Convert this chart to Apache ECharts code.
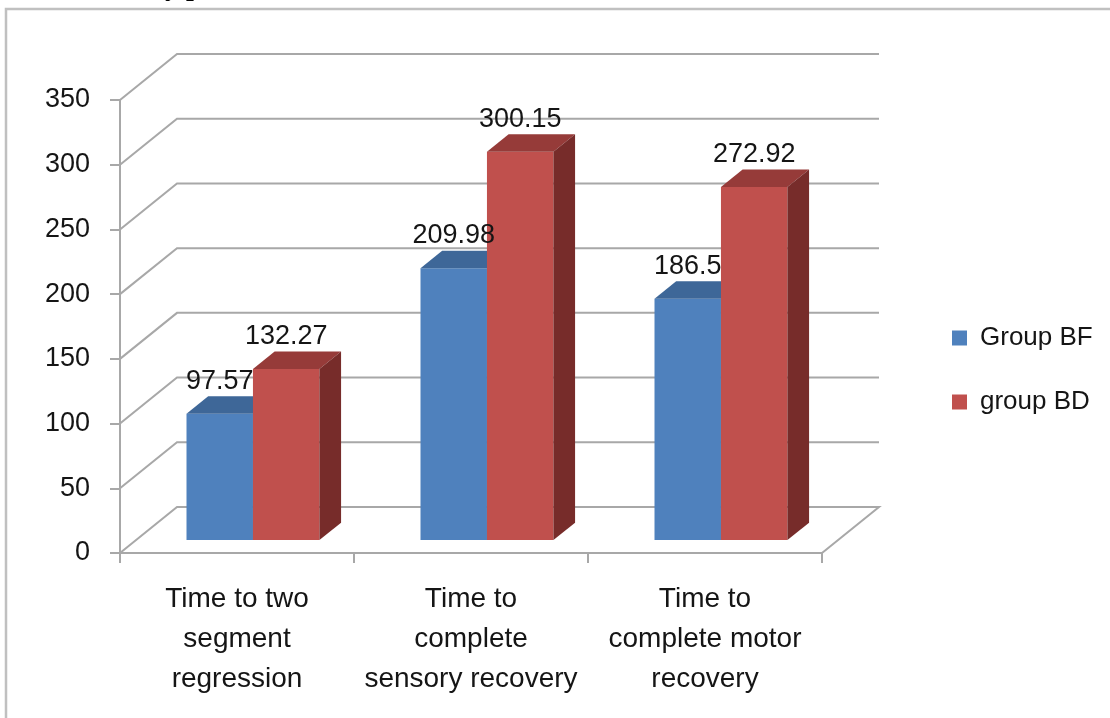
<!DOCTYPE html>
<html>
<head>
<meta charset="utf-8">
<script src="https://cdn.jsdelivr.net/npm/echarts@6/dist/echarts.min.js"></script>
<style>
  html, body { margin: 0; padding: 0; background: #ffffff; }
  #chart { width: 1110px; height: 718px; }
</style>
</head>
<body>
<div id="chart"></div>
<script>
// ---- data ----
const categories = [
  'Time to two\nsegment\nregression',
  'Time to\ncomplete\nsensory recovery',
  'Time to\ncomplete motor\nrecovery'
];
const seriesNames = ['Group BF', 'group BD'];
const groupBF = [97.57, 209.98, 186.5];
const groupBD = [132.27, 300.15, 272.92];
const valueTicks = [0, 50, 100, 150, 200, 250, 300, 350];

// ---- look of the 3D box ----
const DEPTH = [57, -46];      // offset from the front plane to the back wall
const BAR_FRONT = 0.28;       // bars start this far into the depth
const BAR_DEPTH = 0.38;       // thickness of each bar along the depth
const BAR_WIDTH = 0.284;      // bar width as a share of one category
const FONT = '"Liberation Sans", Arial, sans-serif';
const TEXT = '#151515';
const GRID = '#a8a8a8';
const COLORS = [
  { front: '#4f81bd', top: '#3e6798', side: '#365a85' },
  { front: '#c0504d', top: '#963b39', side: '#772c2a' }
];

// back wall gridlines, side wall diagonals and the floor outline
function renderWall(params, api) {
  const v = api.value(1);
  const cs = params.coordSys;
  const y = api.coord([0, v])[1];
  const x0 = cs.x, x1 = cs.x + cs.width;
  const pts = [[x0, y], [x0 + DEPTH[0], y + DEPTH[1]], [x1 + DEPTH[0], y + DEPTH[1]]];
  if (v === 0) pts.push([x1, y]);
  return {
    type: 'polyline',
    shape: { points: pts },
    style: { stroke: GRID, lineWidth: 2, fill: null },
    silent: true
  };
}

// geometry shared by the bars and their labels
function barBox(api, idx, val, group) {
  const base = api.coord([idx, 0]);
  const top = api.coord([idx, val]);
  const bw = api.size([1, 0])[0] * BAR_WIDTH;
  const ox = DEPTH[0] * BAR_FRONT, oy = DEPTH[1] * BAR_FRONT;
  const xl = base[0] + ox + (group === 0 ? -bw : 0);
  return {
    xl: xl, xr: xl + bw,
    yb: base[1] + oy, yt: top[1] + oy,
    dx: DEPTH[0] * BAR_DEPTH, dy: DEPTH[1] * BAR_DEPTH
  };
}

function makeBarRenderer(group) {
  const c = COLORS[group];
  return function (params, api) {
    const b = barBox(api, api.value(0), api.value(1), group);
    return {
      type: 'group',
      children: [
        { type: 'rect', shape: { x: b.xl, y: b.yt, width: b.xr - b.xl, height: b.yb - b.yt },
          style: { fill: c.front } },
        { type: 'polygon',
          shape: { points: [[b.xl, b.yt], [b.xr, b.yt], [b.xr + b.dx, b.yt + b.dy], [b.xl + b.dx, b.yt + b.dy]] },
          style: { fill: c.top } },
        { type: 'polygon',
          shape: { points: [[b.xr, b.yt], [b.xr + b.dx, b.yt + b.dy], [b.xr + b.dx, b.yb + b.dy], [b.xr, b.yb]] },
          style: { fill: c.side } }
      ]
    };
  };
}

function renderLabel(params, api) {
  const idx = api.value(0), val = api.value(1), group = api.value(2);
  const b = barBox(api, idx, val, group);
  const src = group === 0 ? groupBF : groupBD;
  return {
    type: 'text',
    x: (b.xl + b.xr) / 2,
    y: b.yt + b.dy - 15,
    style: {
      text: String(src[idx]),
      fill: TEXT,
      font: '27px ' + FONT,
      align: 'center',
      verticalAlign: 'middle'
    },
    silent: true
  };
}

const labelData = [];
groupBF.forEach((v, i) => labelData.push([i, v, 0]));
groupBD.forEach((v, i) => labelData.push([i, v, 1]));

const chart = echarts.init(document.getElementById('chart'), null, { renderer: 'canvas' });
chart.setOption({
  backgroundColor: '#ffffff',
  animation: false,
  grid: { left: 120, top: 100, width: 702, height: 453 },
  graphic: [
    { type: 'rect', shape: { x: 6, y: 9, width: 1200, height: 800 },
      style: { fill: null, stroke: '#c0c0c0', lineWidth: 2.5 }, silent: true },
    { type: 'text', x: 67, y: -12,
      style: { text: 'Recovery profile', fill: '#000000',
               font: 'bold 28px "Liberation Serif", "Times New Roman", serif',
               align: 'left', verticalAlign: 'middle' }, silent: true }
  ],
  legend: {
    data: seriesNames,
    orient: 'vertical',
    left: 947,
    top: 318,
    icon: 'rect',
    itemWidth: 15,
    itemHeight: 15,
    itemGap: 34,
    selectedMode: false,
    textStyle: { fontFamily: FONT, fontSize: 26, color: TEXT, lineHeight: 30, padding: [0, 0, 0, 8] }
  },
  xAxis: {
    type: 'category',
    data: categories,
    boundaryGap: true,
    axisLine: { show: true, lineStyle: { color: GRID, width: 2 } },
    axisTick: { show: true, length: 10, lineStyle: { color: GRID, width: 2 } },
    axisLabel: { interval: 0, margin: 26, fontFamily: FONT, fontSize: 28, lineHeight: 40, color: TEXT },
    splitLine: { show: false }
  },
  yAxis: {
    type: 'value',
    min: 0,
    max: 350,
    interval: 50,
    axisLine: { show: true, lineStyle: { color: GRID, width: 2 } },
    axisTick: { show: true, length: 10, lineStyle: { color: GRID, width: 2 } },
    axisLabel: { margin: 30, fontFamily: FONT, fontSize: 27, color: TEXT },
    splitLine: { show: false }
  },
  series: [
    {
      type: 'custom', name: 'walls', z: 1, silent: true,
      renderItem: renderWall,
      encode: { x: 0, y: 1 },
      data: valueTicks.map(v => [0, v])
    },
    {
      type: 'custom', name: seriesNames[0], z: 2,
      itemStyle: { color: COLORS[0].front },
      renderItem: makeBarRenderer(0),
      encode: { x: 0, y: 1 },
      data: groupBF.map((v, i) => [i, v])
    },
    {
      type: 'custom', name: seriesNames[1], z: 3,
      itemStyle: { color: COLORS[1].front },
      renderItem: makeBarRenderer(1),
      encode: { x: 0, y: 1 },
      data: groupBD.map((v, i) => [i, v])
    },
    {
      type: 'custom', name: 'labels', z: 5, silent: true,
      renderItem: renderLabel,
      encode: { x: 0, y: 1 },
      data: labelData
    }
  ]
});
</script>
</body>
</html>
